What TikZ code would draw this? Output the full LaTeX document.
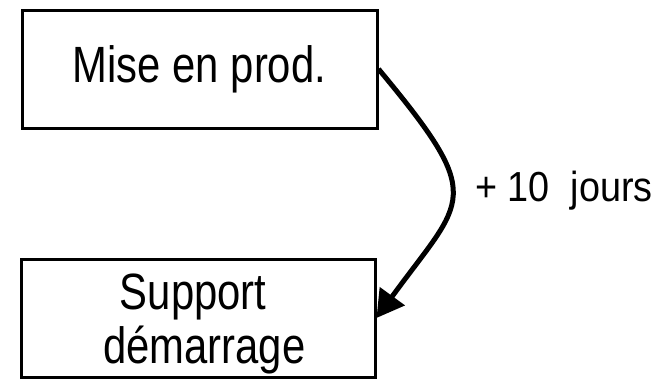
\documentclass[tikz,border=0pt]{standalone}
\usepackage{fontspec}
\setmainfont{Liberation Sans}
\newfontfamily\boxfont{Liberation Sans}[FakeStretch=0.82]
\newfontfamily\delayfont{Liberation Sans}[FakeStretch=0.9]
\usetikzlibrary{arrows.meta}

\tikzset{
  stagebox/.style={draw=black, line width=3pt, rectangle, inner sep=0pt,
    minimum width=355pt, minimum height=118pt, align=center,
    font=\boxfont\fontsize{51}{54.3}\selectfont},
  stagetext/.style={inner sep=0pt, align=center,
    font=\boxfont\fontsize{51}{54.3}\selectfont},
  delayarrow/.style={draw=black, line width=5pt,
    -{Triangle[length=27pt, width=30pt]}},
  delaylabel/.style={inner sep=0pt, anchor=base west,
    font=\delayfont\fontsize{42}{50}\selectfont}
}

\begin{document}
\begin{tikzpicture}[x=1pt, y=-1pt]
  \useasboundingbox (0,0) rectangle (663,378);

  % the two stages
  \node[stagebox] (prod) at (199.5,69) {Mise en prod.};
  \node[stagebox, minimum width=354pt] (support) at (198,318) {};
  \node[stagetext] (supporttext) at (204.2,324)
    {Support\hspace*{22pt}\\démarrage};

  % delay between the stages
  \draw[delayarrow] (prod.east) .. controls +(109,131) and +(88,-121) .. (support.east);
  \node[delaylabel] (delay) at (475,201.7) {+ 10~~jours};
\end{tikzpicture}
\end{document}
